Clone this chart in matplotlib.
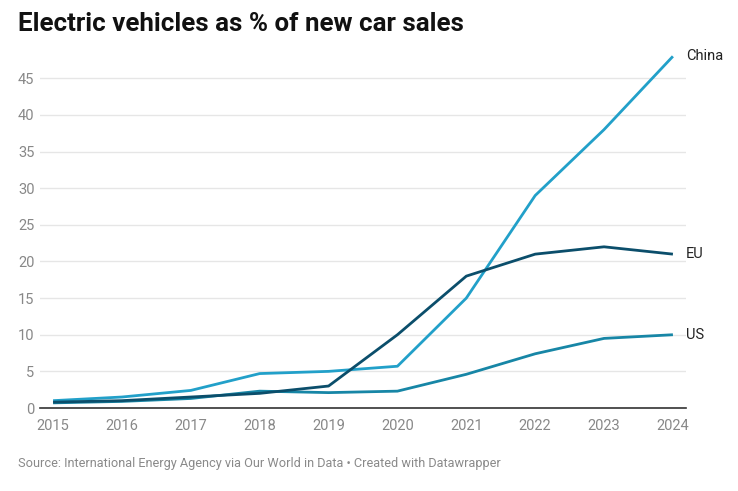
import matplotlib.pyplot as plt

plt.rcParams['font.family'] = ['Roboto', 'DejaVu Sans']

years = [2015, 2016, 2017, 2018, 2019, 2020, 2021, 2022, 2023, 2024]
china = [1.0, 1.5, 2.4, 4.7, 5.0, 5.7, 15.0, 29.0, 38.0, 48.0]
eu = [0.8, 1.0, 1.5, 2.0, 3.0, 10.0, 18.0, 21.0, 22.0, 21.0]
us = [0.7, 0.9, 1.3, 2.3, 2.1, 2.3, 4.6, 7.4, 9.5, 10.0]

series = [("US", us, "#1786a6"), ("China", china, "#22a0c9"), ("EU", eu, "#0b4e6b")]

fig = plt.figure(figsize=(7.38, 4.91), dpi=100)
ax = fig.add_axes([40 / 738, 1 - 408 / 491, 646 / 738, 359 / 491])

for name, vals, col in series:
    ax.plot(years, vals, color=col, lw=2.0, solid_capstyle="butt", zorder=3)
    ax.text(2024 + 0.19, vals[-1], name, va="center", ha="left", fontsize=10.5, color="#222222")

ax.set_xlim(2014.81, 2024.19)
ax.set_ylim(0, 49)
ax.set_yticks(range(0, 50, 5))
ax.set_xticks(years)
ax.grid(axis="y", color="#e6e6e6", lw=1)
ax.set_axisbelow(True)
for s in ["top", "right", "left"]:
    ax.spines[s].set_visible(False)
ax.spines["bottom"].set_color("#333333")
ax.spines["bottom"].set_linewidth(1.2)
ax.tick_params(axis="both", length=0, labelsize=10.5, labelcolor="#888888")
ax.tick_params(axis="x", pad=8)
ax.tick_params(axis="y", pad=4)

fig.text(18 / 738, 1 - 24 / 491, "Electric vehicles as % of new car sales",
         fontsize=18.6, fontweight="bold", va="center", ha="left", color="#111111")
fig.text(18 / 738, 1 - 463 / 491,
         "Source: International Energy Agency via Our World in Data \u2022 Created with Datawrapper",
         fontsize=9.2, va="center", ha="left", color="#8a8a8a")

fig.savefig("out.png", dpi=100)
